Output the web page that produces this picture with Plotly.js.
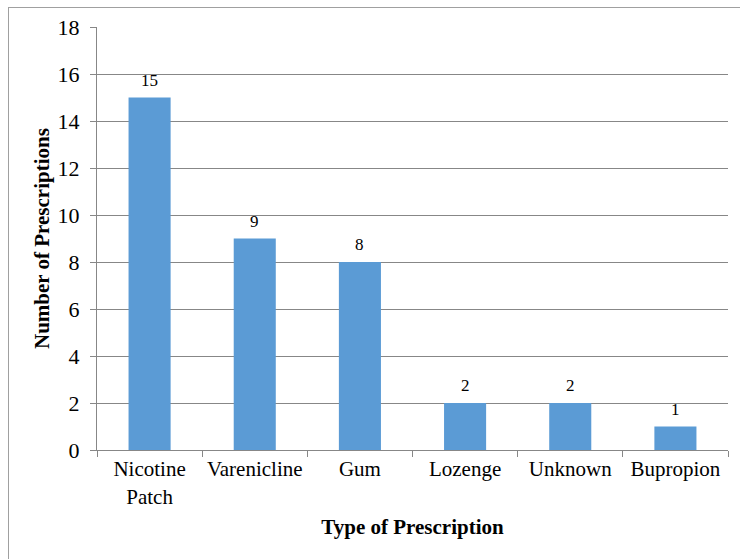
<!DOCTYPE html>
<html>
<head>
<meta charset="utf-8">
<script src="https://cdn.plot.ly/plotly-3.0.1.min.js"></script>
<style>
html, body { margin: 0; padding: 0; background: #fff; }
#chart { width: 740px; height: 559px; }
</style>
</head>
<body>
<div id="chart"></div>
<script>
const categories = ["Nicotine<br>Patch", "Varenicline", "Gum", "Lozenge", "Unknown", "Bupropion"];
const counts = [15, 9, 8, 2, 2, 1];
const yTicks = [0, 2, 4, 6, 8, 10, 12, 14, 16, 18];

const W = 740, H = 559;
const M = { l: 97, r: 12, t: 27, b: 109 };
const pw = W - M.l - M.r, ph = H - M.t - M.b;
const px = v => (v - M.l) / pw;
const py = v => 1 - (v - M.t) / ph;

const font = "'Liberation Serif', 'Times New Roman', serif";

const trace = {
  type: "bar",
  x: categories,
  y: counts,
  width: 0.4,
  marker: { color: "#5B9BD5" },
  cliponaxis: false,
  hoverinfo: "x+y"
};

const labels = categories.map((c, i) => ({
  x: c, y: counts[i], xref: "x", yref: "y",
  text: String(counts[i]),
  showarrow: false,
  yanchor: "bottom",
  yshift: 6,
  font: { family: font, size: 17, color: "#000" }
}));

labels.push({
  xref: "paper", yref: "paper",
  x: px(42), y: py(239),
  xanchor: "center", yanchor: "middle",
  text: "<b>Number of Prescriptions</b>",
  textangle: -90,
  showarrow: false,
  font: { family: font, size: 21, color: "#000" }
});

const layout = {
  width: W, height: H,
  margin: M,
  paper_bgcolor: "#fff",
  plot_bgcolor: "#fff",
  font: { family: font, color: "#000" },
  showlegend: false,
  xaxis: {
    type: "category",
    tickson: "boundaries",
    ticks: "outside",
    ticklen: 6,
    tickcolor: "#878787",
    showline: true,
    linecolor: "#878787",
    linewidth: 1,
    showgrid: false,
    tickfont: { family: font, size: 21, color: "#000" },
    title: { text: "<b>Type of Prescription</b>", font: { family: font, size: 21, color: "#000" }, standoff: 11 },
    fixedrange: true
  },
  yaxis: {
    range: [0, 18],
    tickvals: yTicks,
    ticktext: yTicks.map(String),
    ticks: "outside",
    ticklen: 6,
    tickcolor: "#878787",
    showline: true,
    linecolor: "#878787",
    linewidth: 1,
    showgrid: true,
    gridcolor: "#878787",
    gridwidth: 1,
    zeroline: false,
    tickfont: { family: font, size: 22, color: "#000" },
    ticklabelstandoff: 6,
    fixedrange: true
  },
  annotations: labels,
  shapes: [
    { type: "line", xref: "paper", yref: "paper", x0: px(8), x1: px(W), y0: py(7.5), y1: py(7.5), line: { color: "#a0a0a0", width: 1 } },
    { type: "line", xref: "paper", yref: "paper", x0: px(8.5), x1: px(8.5), y0: py(7), y1: py(H), line: { color: "#a0a0a0", width: 1 } }
  ]
};

Plotly.newPlot("chart", [trace], layout, { displayModeBar: false, staticPlot: true });
</script>
</body>
</html>
